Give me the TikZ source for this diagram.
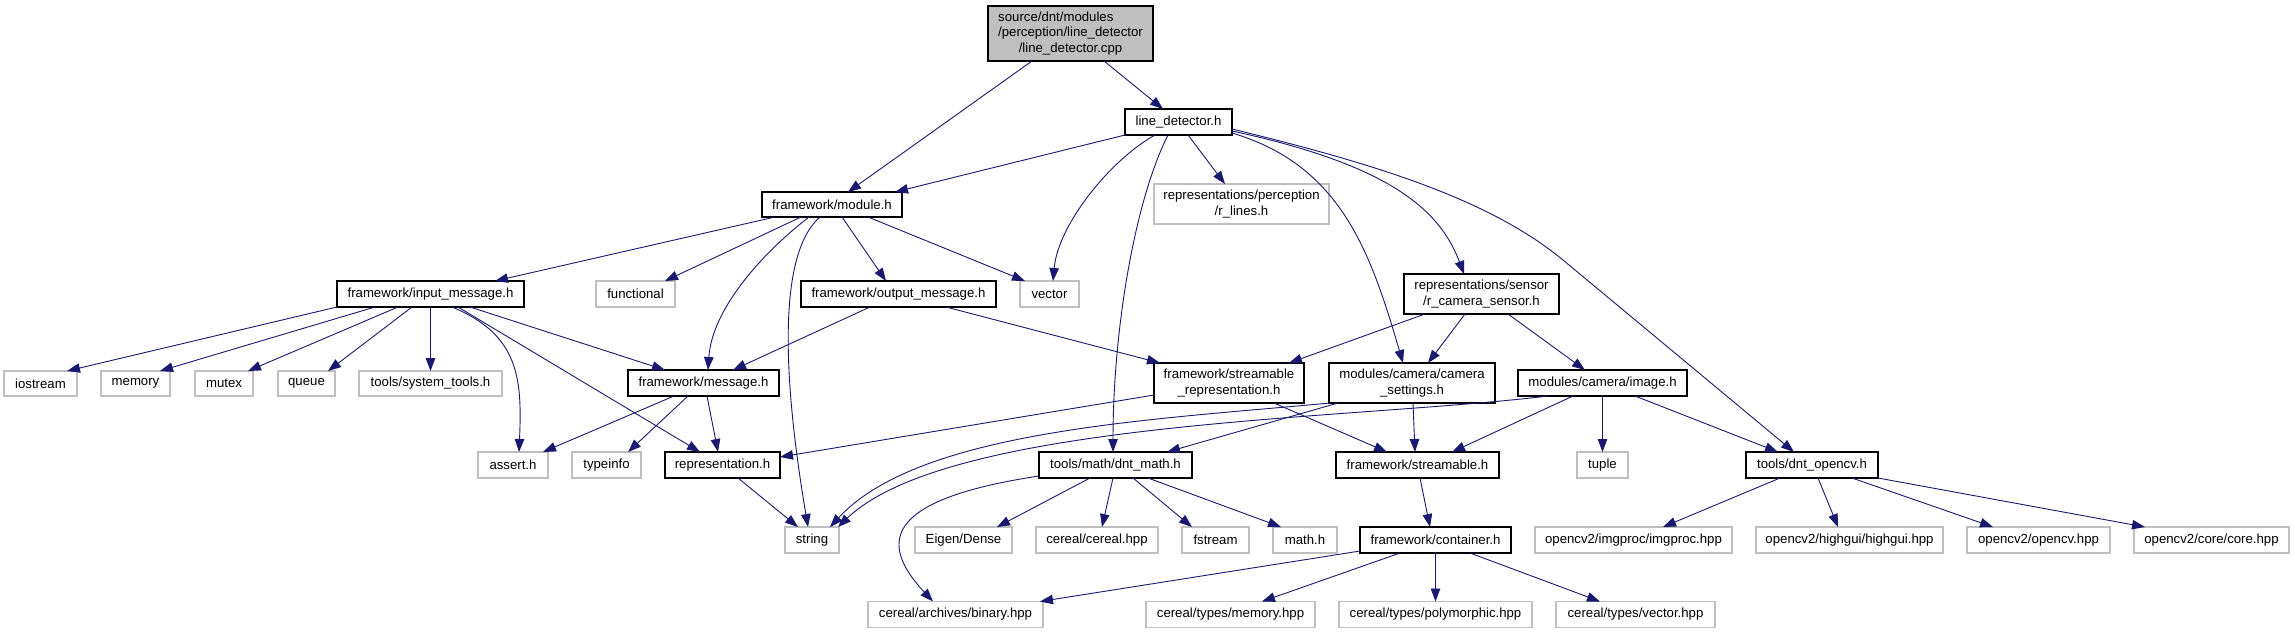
\documentclass[tikz,border=0pt]{standalone}
\usepackage{fontspec}
\usepackage{calc}
\setmainfont{Liberation Sans}
\usetikzlibrary{arrows.meta}
\definecolor{edgeblue}{HTML}{191970}
\definecolor{extgray}{HTML}{BFBFBF}
\definecolor{rootgray}{HTML}{BFBFBF}
\newcommand{\nfont}{\fontsize{13.2}{15.5}\selectfont}
\begin{document}
\begin{tikzpicture}[x=1pt,y=-1pt,
  box/.style={inner sep=0pt, outer sep=0pt, align=center, font=\nfont, fill=white},
  doc/.style={box, draw=black, line width=1.1pt},
  ext/.style={box, draw=extgray, line width=1.1pt},
  rootn/.style={doc, fill=rootgray},
  edge/.style={draw=edgeblue, line width=0.9pt, -{Triangle[length=13pt,width=9.5pt]}},
]
\fill[white] (0,0) rectangle (2295,633);
\useasboundingbox (0,0) rectangle (2295,633);

% row 0-2
\node[rootn, minimum width=165pt, minimum height=55pt] (root) at (1070.5,33.5)
  {\makebox[\widthof{/perception/line\_detector}][l]{source/dnt/modules}\\/perception/line\_detector\\/line\_detector.cpp};
\node[doc, minimum width=107pt, minimum height=26pt] (ld) at (1178.5,122) {line\_detector.h};
\node[doc, minimum width=140pt, minimum height=25pt] (module) at (832,204.5) {framework/module.h};
\node[ext, minimum width=175pt, minimum height=40pt] (rlines) at (1241.5,204) {representations/perception\\/r\_lines.h};
% row 3
\node[doc, minimum width=187pt, minimum height=26pt] (inmsg) at (430.5,294) {framework/input\_message.h};
\node[ext, minimum width=79pt, minimum height=26pt] (functional) at (635.5,294) {functional};
\node[doc, minimum width=195pt, minimum height=26pt] (outmsg) at (898.5,294) {framework/output\_message.h};
\node[ext, minimum width=59pt, minimum height=26pt] (vectorn) at (1049.5,294) {vector};
\node[doc, minimum width=155pt, minimum height=40pt] (camsensor) at (1481.5,294) {representations/sensor\\/r\_camera\_sensor.h};
% row 4
\node[ext, minimum width=73pt, minimum height=25pt] (iostream) at (40.5,383.5) {iostream};
\node[ext, minimum width=69pt, minimum height=25pt] (memoryn) at (135.5,383.5) {memory};
\node[ext, minimum width=58pt, minimum height=25pt] (mutex) at (224,383.5) {mutex};
\node[ext, minimum width=57pt, minimum height=25pt] (queue) at (306.5,383.5) {queue};
\node[ext, minimum width=143pt, minimum height=25pt] (systools) at (430.5,383.5) {tools/system\_tools.h};
\node[doc, minimum width=151pt, minimum height=26pt] (message) at (703.5,383) {framework/message.h};
\node[doc, minimum width=150pt, minimum height=40pt] (strrep) at (1229,383) {framework/streamable\\\_representation.h};
\node[doc, minimum width=166pt, minimum height=40pt] (camset) at (1412,383) {modules/camera/camera\\\_settings.h};
\node[doc, minimum width=169pt, minimum height=26pt] (image) at (1602.5,383) {modules/camera/image.h};
% row 5
\node[ext, minimum width=70pt, minimum height=26pt] (assert) at (513,465) {assert.h};
\node[ext, minimum width=69pt, minimum height=26pt] (typeinfo) at (606.5,465) {typeinfo};
\node[doc, minimum width=115pt, minimum height=26pt] (repr) at (722.5,465) {representation.h};
\node[doc, minimum width=153pt, minimum height=26pt] (dntmath) at (1115.5,465) {tools/math/dnt\_math.h};
\node[doc, minimum width=163pt, minimum height=26pt] (streamable) at (1417.5,465) {framework/streamable.h};
\node[ext, minimum width=51pt, minimum height=26pt] (tuple) at (1602.5,465) {tuple};
\node[doc, minimum width=132pt, minimum height=26pt] (opencv) at (1812,465) {tools/dnt\_opencv.h};
% row 6
\node[ext, minimum width=54pt, minimum height=26pt] (stringn) at (812,540) {string};
\node[ext, minimum width=97pt, minimum height=26pt] (eigen) at (963.5,540) {Eigen/Dense};
\node[ext, minimum width=122pt, minimum height=26pt] (cerealhpp) at (1097,540) {cereal/cereal.hpp};
\node[ext, minimum width=67pt, minimum height=26pt] (fstream) at (1215.5,540) {fstream};
\node[ext, minimum width=64pt, minimum height=26pt] (mathh) at (1305,540) {math.h};
\node[doc, minimum width=151pt, minimum height=26pt] (container) at (1435.5,540) {framework/container.h};
\node[ext, minimum width=197pt, minimum height=26pt] (imgproc) at (1633.5,540) {opencv2/imgproc/imgproc.hpp};
\node[ext, minimum width=187pt, minimum height=26pt] (highgui) at (1849.5,540) {opencv2/highgui/highgui.hpp};
\node[ext, minimum width=143pt, minimum height=26pt] (cvhpp) at (2038.5,540) {opencv2/opencv.hpp};
\node[ext, minimum width=155pt, minimum height=26pt] (core) at (2211.5,540) {opencv2/core/core.hpp};
% row 7
\node[ext, minimum width=175pt, minimum height=26pt] (binary) at (955.5,614.5) {cereal/archives/binary.hpp};
\node[ext, minimum width=169pt, minimum height=26pt] (tmemory) at (1230.5,614.5) {cereal/types/memory.hpp};
\node[ext, minimum width=193pt, minimum height=26pt] (poly) at (1435.5,614.5) {cereal/types/polymorphic.hpp};
\node[ext, minimum width=159pt, minimum height=26pt] (tvector) at (1635.5,614.5) {cereal/types/vector.hpp};

% edges: root
\draw[edge] ([xshift=-38.5pt]root.south) -- ([xshift=16pt]module.north);
\draw[edge] ([xshift=33.5pt]root.south) -- ([xshift=-15.5pt]ld.north);
% ld
\draw[edge] (ld.south west) -- ([xshift=63pt]module.north);
\draw[edge] ([xshift=-23.5pt]ld.south) .. controls +(-45,25) and +(5,-56) .. ([xshift=3.5pt]vectorn.north);
\draw[edge] ([xshift=-10.5pt]ld.south) .. controls +(-33,65) and +(0,-123) .. ([xshift=-2.5pt]dntmath.north);
\draw[edge] ([xshift=9.5pt]ld.south) -- ([xshift=-16.5pt]rlines.north);
\draw[edge] ([yshift=-9pt]ld.east) .. controls +(158,34) and +(-24,-64) .. ([xshift=-17.5pt]camsensor.north);
\draw[edge] ([yshift=-11pt]ld.east) .. controls +(108,32) and +(-33,-113) .. ([xshift=-9pt]camset.north);
\draw[edge] ([yshift=-7pt]ld.east) .. controls +(148,36) and +(-73,-60) .. (1563,260) -- ([xshift=-18pt]opencv.north);
% module
\draw[edge] ([xshift=-57pt]module.south) -- ([xshift=64.5pt]inmsg.north);
\draw[edge] ([xshift=-31pt]module.south) -- ([xshift=29.5pt]functional.north);
\draw[edge] ([xshift=-23pt]module.south) .. controls +(-49,38) and +(4,-60) .. ([xshift=4.5pt]message.north);
\draw[edge] ([xshift=-12pt]module.south) .. controls +(-50,43) and +(-18,-107) .. ([xshift=-4pt]stringn.north);
\draw[edge] ([xshift=10pt]module.south) -- ([xshift=-12.5pt]outmsg.north);
\draw[edge] ([xshift=36pt]module.south) -- ([xshift=-24.5pt]vectorn.north);
% input message
\draw[edge] ([xshift=-93.5pt]inmsg.south) -- ([xshift=26.5pt]iostream.north);
\draw[edge] ([xshift=-55.5pt]inmsg.south) -- ([xshift=24.5pt]memoryn.north);
\draw[edge] ([xshift=-32.5pt]inmsg.south) -- ([xshift=24pt]mutex.north);
\draw[edge] ([xshift=-18.5pt]inmsg.south) -- ([xshift=21.5pt]queue.north);
\draw[edge] (inmsg.south) -- (systools.north);
\draw[edge] ([xshift=21.5pt]inmsg.south) .. controls +(68,28) and +(3,-72) .. ([xshift=6pt]assert.north);
\draw[edge] ([xshift=27.5pt]inmsg.south) -- ([xshift=-22.5pt]repr.north);
\draw[edge] ([xshift=39.5pt]inmsg.south) -- ([xshift=-38.5pt]message.north);
% output message
\draw[edge] ([xshift=-28.5pt]outmsg.south) -- ([xshift=29.5pt]message.north);
\draw[edge] ([xshift=47.5pt]outmsg.south) -- ([xshift=-69pt]strrep.north);
% message
\draw[edge] ([xshift=-29.5pt]message.south) -- ([xshift=30pt]assert.north);
\draw[edge] ([xshift=-15.5pt]message.south) -- ([xshift=21.5pt]typeinfo.north);
\draw[edge] ([xshift=3.5pt]message.south) -- ([xshift=-4.5pt]repr.north);
% streamable representation
\draw[edge] ([yshift=-12pt]strrep.west) -- ([yshift=8pt]repr.east);
\draw[edge] ([xshift=45pt]strrep.south) -- ([xshift=-30.5pt]streamable.north);
% camera sensor
\draw[edge] ([xshift=-56.5pt]camsensor.south) -- ([xshift=60pt]strrep.north);
\draw[edge] ([xshift=-16.5pt]camsensor.south) -- ([xshift=16pt]camset.north);
\draw[edge] ([xshift=26.5pt]camsensor.south) -- ([xshift=-17.5pt]image.north);
% camera settings
\draw[edge] ([xshift=-82pt]camset.south) .. controls +(-180,17) and +(90,-97) .. ([xshift=18pt]stringn.north);
\draw[edge] ([xshift=-74pt]camset.south) -- ([xshift=51.5pt]dntmath.north);
\draw[edge] ([xshift=1pt]camset.south) -- ([xshift=-2.5pt]streamable.north);
% image
\draw[edge] ([xshift=-54.5pt]image.south) .. controls +(-198,24) and +(112,-107) .. ([xshift=26pt]stringn.north);
\draw[edge] ([xshift=-29.5pt]image.south) -- ([xshift=34.5pt]streamable.north);
\draw[edge] (image.south) -- (tuple.north);
\draw[edge] ([xshift=32.5pt]image.south) -- ([xshift=-34pt]opencv.north);
% representation
\draw[edge] ([xshift=15.5pt]repr.south) -- ([xshift=-14pt]stringn.north);
% dnt math
\draw[edge] ([yshift=-11pt]dntmath.west) .. controls +(-159,24) and +(-53,-57) .. ([xshift=-22.5pt]binary.north);
\draw[edge] ([xshift=-25.5pt]dntmath.south) -- ([xshift=33.5pt]eigen.north);
\draw[edge] ([xshift=-2.5pt]dntmath.south) -- ([xshift=5pt]cerealhpp.north);
\draw[edge] ([xshift=17.5pt]dntmath.south) -- ([xshift=-23.5pt]fstream.north);
\draw[edge] ([xshift=32.5pt]dntmath.south) -- ([xshift=-24pt]mathh.north);
% streamable
\draw[edge] ([xshift=2.5pt]streamable.south) -- ([xshift=-5.5pt]container.north);
% container
\draw[edge] ([yshift=-11pt]container.west) -- ([xshift=84.5pt]binary.north);
\draw[edge] ([xshift=-35.5pt]container.south) -- ([xshift=31.5pt]tmemory.north);
\draw[edge] (container.south) -- (poly.north);
\draw[edge] ([xshift=34.5pt]container.south) -- ([xshift=-35.5pt]tvector.north);
% dnt opencv
\draw[edge] ([xshift=-32pt]opencv.south) -- ([xshift=29.5pt]imgproc.north);
\draw[edge] ([xshift=6pt]opencv.south) -- ([xshift=-11.5pt]highgui.north);
\draw[edge] ([xshift=40pt]opencv.south) -- ([xshift=-45.5pt]cvhpp.north);
\draw[edge] (opencv.south east) -- ([xshift=-66.5pt]core.north);
\end{tikzpicture}
\end{document}
